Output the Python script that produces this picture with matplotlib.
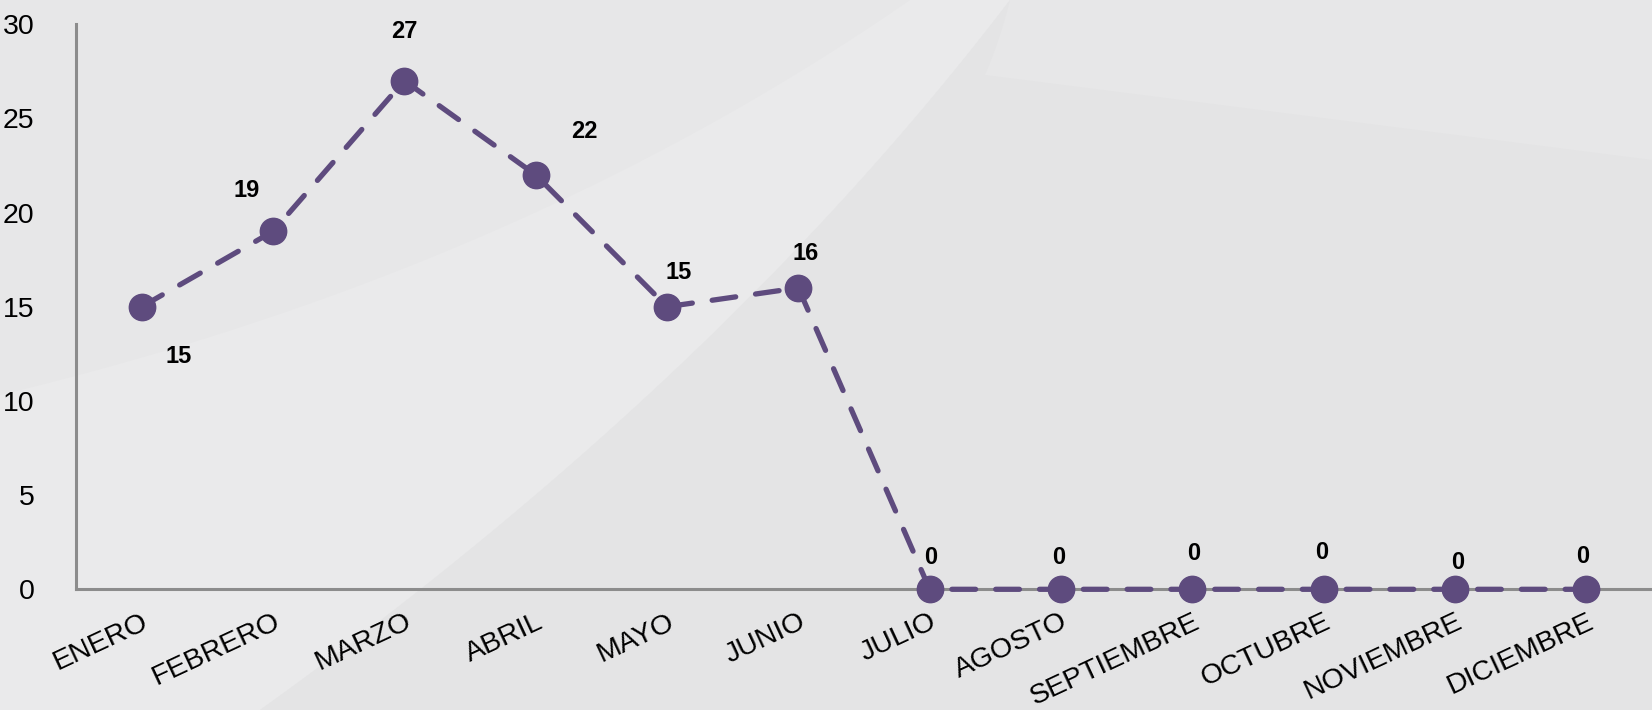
import matplotlib

matplotlib.use("Agg")
import matplotlib.pyplot as plt
import numpy as np

# data
months = ["ENERO", "FEBRERO", "MARZO", "ABRIL", "MAYO", "JUNIO", "JULIO",
          "AGOSTO", "SEPTIEMBRE", "OCTUBRE", "NOVIEMBRE", "DICIEMBRE"]
values = [15, 19, 27, 22, 15, 16, 0, 0, 0, 0, 0, 0]
yticks = [0, 5, 10, 15, 20, 25, 30]

# label offsets (pixels) relative to each point
label_offsets = [(37, -50), (-26, 41), (0, 49), (49, 43), (12, 34), (7, 34),
                 (1, 32), (-2, 32), (1, 36), (-2, 37), (3, 27), (-4, 33)]

PURPLE = "#5E4B7E"
BG = "#E7E7E8"

plt.rcParams["font.family"] = ["Liberation Sans Narrow", "Liberation Sans", "DejaVu Sans"]


def bezier(p0, p1, p2, n=100):
    t = np.linspace(0, 1, n)[:, None]
    return (1 - t) ** 2 * np.array(p0) + 2 * (1 - t) * t * np.array(p1) + t ** 2 * np.array(p2)


fig = plt.figure(figsize=(16.52, 7.10), dpi=100)
fig.patch.set_facecolor(BG)

# subtle background swooshes, drawn in pixel coords
bg = fig.add_axes([0, 0, 1, 1], zorder=-5)
bg.set_xlim(0, 1652)
bg.set_ylim(710, 0)
bg.axis("off")
curve_a = bezier((0, 395), (520, 270), (910, 0))
curve_b = bezier((1010, 0), (720, 380), (260, 710))
band = np.vstack([curve_a, curve_b, [(0, 710)]])
bg.fill(band[:, 0], band[:, 1], color="#EAEAEB", lw=0)
curve_c = bezier((985, 75), (1300, 115), (1652, 160))
dark = np.vstack([curve_b[::-1][:-1], bezier((1010, 0), (1000, 40), (985, 75)),
                  curve_c, [(1652, 710)]])
bg.fill(dark[:, 0], dark[:, 1], color="#E4E4E5", lw=0)

ax = fig.add_axes([0.046, 0.170, 0.954, 0.796])
ax.set_facecolor("none")
x = np.arange(len(months))
ax.plot(x, values, color=PURPLE, lw=3.8, linestyle=(0, (4.5, 3.8)),
        dash_capstyle="round", marker="o", markersize=19, zorder=3,
        clip_on=False)

for xi, v, (dx, dy) in zip(x, values, label_offsets):
    ax.annotate(str(v), (xi, v), xytext=(dx, dy), textcoords="offset pixels",
                ha="center", va="center", fontsize=17, fontweight="bold",
                color="black", zorder=4)

ax.set_xlim(-0.5, len(months) - 0.5)
ax.set_ylim(0, 30)
ax.set_yticks(yticks)
ax.set_xticks(x)
ax.set_xticklabels(months, rotation=25, ha="right", rotation_mode="anchor")
ax.tick_params(axis="both", length=0, labelsize=20.5)
ax.tick_params(axis="y", pad=30)
ax.tick_params(axis="x", pad=14)

for side in ["top", "right"]:
    ax.spines[side].set_visible(False)
for side in ["left", "bottom"]:
    ax.spines[side].set_color("#8C8C8C")
    ax.spines[side].set_linewidth(2.2)
ax.spines["bottom"].set_zorder(2)

fig.savefig("out.png", dpi=100, facecolor=fig.get_facecolor())
